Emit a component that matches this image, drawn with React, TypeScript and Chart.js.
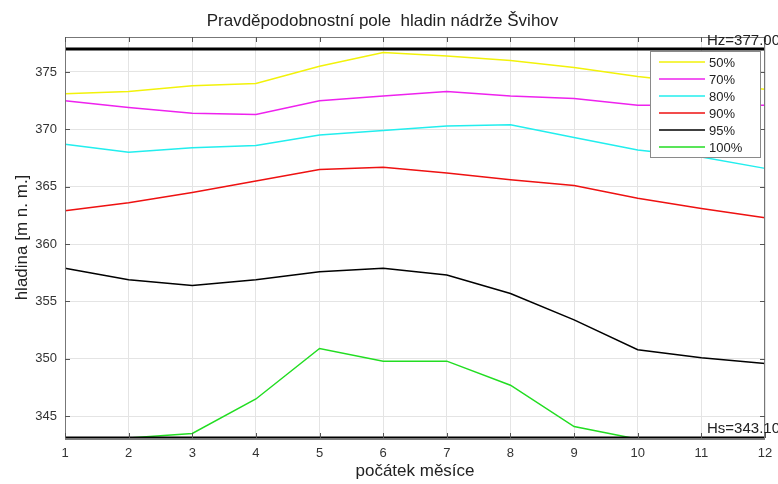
import React, { useEffect, useRef } from "react";
import { Chart, registerables } from "chart.js";

Chart.register(...registerables);

const months = ["1", "2", "3", "4", "5", "6", "7", "8", "9", "10", "11", "12"];
const p50 = [373.1, 373.3, 373.8, 374.0, 375.5, 376.7, 376.4, 376.0, 375.4, 374.6, 374.0, 373.5];
const p70 = [372.5, 371.9, 371.4, 371.3, 372.5, 372.9, 373.3, 372.9, 372.7, 372.1, 372.1, 372.1];
const p80 = [368.7, 368.0, 368.4, 368.6, 369.5, 369.9, 370.3, 370.4, 369.3, 368.2, 367.6, 366.6];
const p90 = [362.9, 363.6, 364.5, 365.5, 366.5, 366.7, 366.2, 365.6, 365.1, 364.0, 363.1, 362.3];
const p95 = [357.9, 356.9, 356.4, 356.9, 357.6, 357.9, 357.3, 355.7, 353.4, 350.8, 350.1, 349.6];
const p100 = [343.0, 343.1, 343.5, 346.5, 350.9, 349.8, 349.8, 347.7, 344.1, 343.0, 342.8, 342.8];
const seriesLabels = ["50%", "70%", "80%", "90%", "95%", "100%"];
const seriesColors = ["#f2f20a", "#ee22ee", "#22eeee", "#ee1111", "#000000", "#22dd22"];
const yTickValues = [345, 350, 355, 360, 365, 370, 375];
const HZ = 377.0;
const HS = 343.1;
const hzLabel = "Hz=377.00";
const hsLabel = "Hs=343.10";
const titleText = "Pravděpodobnostní pole  hladin nádrže Švihov";
const xTitle = "počátek měsíce";
const yTitle = "hladina [m n. m.]";

const FONT = "Arial, 'Liberation Sans', sans-serif";

const overlayPlugin = {
  id: "overlay",
  afterDatasetsDraw(chart: any) {
    const { ctx, chartArea: a, scales } = chart;
    const xs = scales.x;
    const ys = scales.y;
    ctx.save();
    // limit lines
    ctx.strokeStyle = "#000";
    ctx.lineWidth = 3;
    [HZ, HS].forEach((v) => {
      const y = ys.getPixelForValue(v);
      ctx.beginPath();
      ctx.moveTo(a.left, y);
      ctx.lineTo(a.right, y);
      ctx.stroke();
    });
    // frame
    ctx.strokeStyle = "#777";
    ctx.lineWidth = 1;
    ctx.strokeRect(a.left + 0.5, a.top + 0.5, a.right - a.left - 1, a.bottom - a.top);
    // inward ticks
    ctx.strokeStyle = "#555";
    const tl = 5;
    xs.ticks.forEach((_: any, i: number) => {
      const x = Math.round(xs.getPixelForTick(i)) + 0.5;
      ctx.beginPath();
      ctx.moveTo(x, a.top);
      ctx.lineTo(x, a.top + tl);
      ctx.moveTo(x, a.bottom);
      ctx.lineTo(x, a.bottom - tl);
      ctx.stroke();
    });
    ys.ticks.forEach((t: any) => {
      const y = Math.round(ys.getPixelForValue(t.value)) + 0.5;
      ctx.beginPath();
      ctx.moveTo(a.left, y);
      ctx.lineTo(a.left + tl, y);
      ctx.moveTo(a.right, y);
      ctx.lineTo(a.right - tl, y);
      ctx.stroke();
    });
    // limit labels
    ctx.fillStyle = "#222";
    ctx.font = `15px ${FONT}`;
    ctx.textAlign = "right";
    ctx.textBaseline = "bottom";
    ctx.fillText(hzLabel, 780, ys.getPixelForValue(HZ) - 1);
    ctx.fillText(hsLabel, 780, ys.getPixelForValue(HS) - 2);
    // legend
    const bx = 650, by = 51, bw = 110, bh = 106;
    ctx.fillStyle = "#fff";
    ctx.fillRect(bx, by, bw, bh);
    ctx.strokeStyle = "#8a8a8a";
    ctx.strokeRect(bx + 0.5, by + 0.5, bw, bh);
    ctx.font = `13px ${FONT}`;
    ctx.textAlign = "left";
    ctx.textBaseline = "middle";
    chart.data.datasets.forEach((ds: any, i: number) => {
      const yy = by + 11 + i * 17;
      ctx.strokeStyle = ds.borderColor;
      ctx.lineWidth = 1.5;
      ctx.beginPath();
      ctx.moveTo(bx + 9, yy);
      ctx.lineTo(bx + 55, yy);
      ctx.stroke();
      ctx.fillStyle = "#222";
      ctx.fillText(ds.label, bx + 59, yy + 1);
    });
    ctx.restore();
  },
};

export default function App() {
  const ref = useRef<HTMLCanvasElement>(null);
  useEffect(() => {
    const values = [p50, p70, p80, p90, p95, p100];
    const chart = new Chart(ref.current!, {
      type: "line",
      data: {
        labels: months,
        datasets: values.map((v, i) => ({
          label: seriesLabels[i],
          data: v,
          borderColor: seriesColors[i],
          backgroundColor: seriesColors[i],
          borderWidth: 1.5,
          pointRadius: 0,
          tension: 0,
          fill: false,
        })),
      },
      options: {
        animation: false,
        responsive: false,
        layout: { padding: { left: 0, right: 13, top: 0, bottom: 0 } },
        plugins: {
          legend: { display: false },
          tooltip: { enabled: false },
          title: {
            display: true,
            text: titleText,
            color: "#222",
            font: { family: FONT, size: 17, weight: "normal" },
            padding: { top: 11, bottom: 5.6 },
          },
        },
        scales: {
          x: {
            type: "category",
            offset: false,
            grid: { color: "#e4e4e4", drawTicks: false },
            border: { display: false },
            ticks: { color: "#333", font: { family: FONT, size: 13 }, padding: 8, maxRotation: 0 },
            title: { display: true, text: xTitle, color: "#222", font: { family: FONT, size: 17 }, padding: { top: 0, bottom: 2 } },
            afterFit: (s: any) => { s.height = 46; s.paddingLeft = 0; s.paddingRight = 0; },
          },
          y: {
            min: HS,
            max: 378.05,
            grid: { color: "#e4e4e4", drawTicks: false },
            border: { display: false },
            afterBuildTicks: (s: any) => { s.ticks = yTickValues.map((v) => ({ value: v })); },
            ticks: { color: "#333", font: { family: FONT, size: 13 }, padding: 8 },
            title: { display: true, text: yTitle, color: "#222", font: { family: FONT, size: 17 }, padding: { top: 12, bottom: 0 } },
            afterFit: (s: any) => { s.width = 65; s.paddingTop = 0; s.paddingBottom = 0; },
          },
        },
      },
      plugins: [overlayPlugin],
    });
    return () => chart.destroy();
  }, []);
  return (
    <div style={{ position: "fixed", left: 0, top: 0, width: 778, height: 484, background: "#fff" }}>
      <canvas ref={ref} width={778} height={484} />
    </div>
  );
}
